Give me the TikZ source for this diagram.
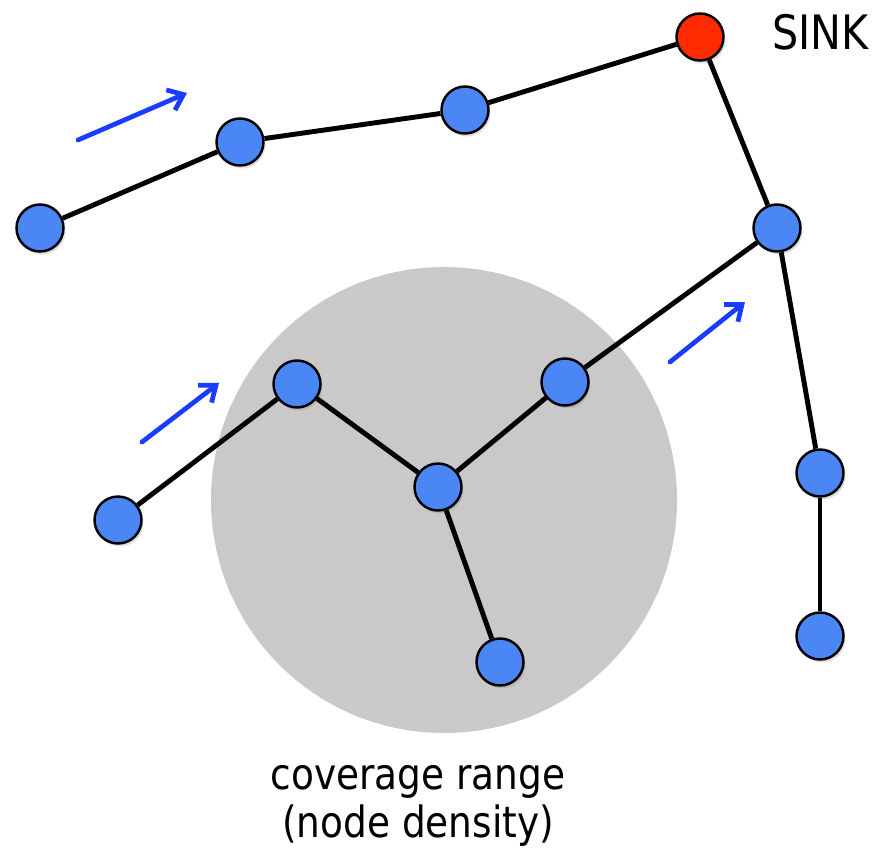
\documentclass[tikz,border=0pt]{standalone}
\usepackage{fontspec}
\setmainfont{DejaVu Sans}[FakeStretch=0.87]
\usetikzlibrary{arrows.meta,shadows}

\definecolor{nodeblue}{HTML}{4A86F4}
\definecolor{sinkred}{HTML}{FF2A00}
\definecolor{rangegray}{HTML}{C9C9C9}
\definecolor{flowblue}{HTML}{1A3CFF}

\tikzset{
  sensor/.style={circle, draw=black, line width=1.4pt, fill=nodeblue,
    minimum size=0.94cm, inner sep=0pt,
    drop shadow={shadow xshift=0.04cm, shadow yshift=-0.06cm, opacity=0.25}},
  sinknode/.style={sensor, fill=sinkred},
  link/.style={line width=2.8pt},
  flow/.style={flowblue, line width=2.7pt, line cap=round,
    -{Straight Barb[length=0.28cm, width=0.44cm, line width=2.7pt]}},
  label/.style={font=\fontsize{24.5}{27}\selectfont, align=center}
}

\begin{document}
\begin{tikzpicture}[x=0.02cm, y=-0.02cm]
	\useasboundingbox (0,0) rectangle (892,848);

	% coverage area
	\fill[rangegray] (444,500) circle (233);

	% sink and its label
	\node[sinknode] (sink) at (700,37) {};
	\node[label, font=\fontsize{27}{30}\selectfont, anchor=west] (sinklabel) at (766,32) {SINK};

	% upper branch
	\node[sensor] (u1) at (465,110) {};
	\node[sensor] (u2) at (240,142) {};
	\node[sensor] (u3) at (40,228) {};

	% right branch
	\node[sensor] (r1) at (777,228) {};
	\node[sensor] (r2) at (820,473) {};
	\node[sensor] (r3) at (820,636) {};

	% branch through the coverage area
	\node[sensor] (m1) at (565,382) {};
	\node[sensor] (m2) at (438,487) {};
	\node[sensor] (m3) at (297,384) {};
	\node[sensor] (m4) at (118,520) {};
	\node[sensor] (m5) at (500,662) {};

	\draw[link] (sink) -- (u1);
	\draw[link] (u1) -- (u2);
	\draw[link] (u2) -- (u3);
	\draw[link] (sink) -- (r1);
	\draw[link] (r1) -- (r2);
	\draw[link] (r2) -- (r3);
	\draw[link] (r1) -- (m1);
	\draw[link] (m1) -- (m2);
	\draw[link] (m2) -- (m3);
	\draw[link] (m3) -- (m4);
	\draw[link] (m2) -- (m5);

	% direction of traffic
	\coordinate (a1s) at (78,140);  \coordinate (a1e) at (187,93);
	\coordinate (a2s) at (142,442); \coordinate (a2e) at (219,383);
	\coordinate (a3s) at (670,362); \coordinate (a3e) at (745,302);
	\draw[flow] (a1s) -- (a1e);
	\draw[flow] (a2s) -- (a2e);
	\draw[flow] (a3s) -- (a3e);

	\node[label] (range) at (418,806) {coverage range\\(node density)};
\end{tikzpicture}
\end{document}
